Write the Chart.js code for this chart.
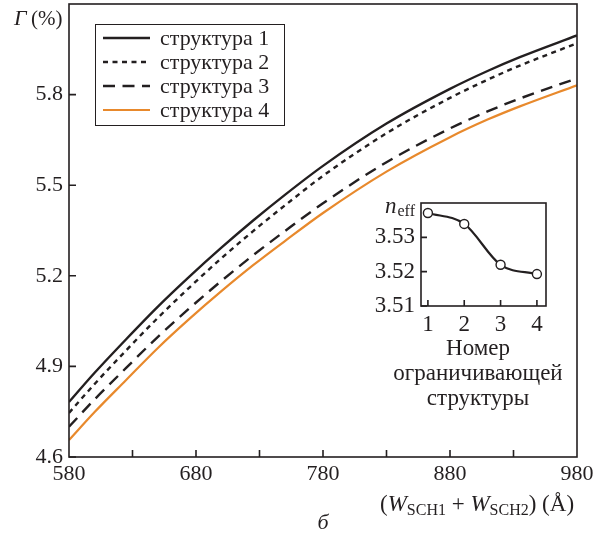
<!DOCTYPE html>
<html>
<head>
<meta charset="utf-8">
<script src="https://cdn.jsdelivr.net/npm/chart.js@4/dist/chart.umd.min.js"></script>
<style>
  html, body { margin: 0; padding: 0; background: #fff; }
  #wrap { position: relative; width: 602px; height: 533px; }
  #main { position: absolute; left: 0; top: 0; }
  #inset { position: absolute; left: 360px; top: 190px; }
</style>
</head>
<body>
<div id="wrap">
  <canvas id="main" width="602" height="533"></canvas>
  <canvas id="inset" width="230" height="225"></canvas>
</div>
<script>
// ---------- data ----------
const widths = [580, 600, 625, 650, 675, 700, 725, 750, 780, 830, 880, 910, 935, 980];
const struct1 = [4.782, 4.878, 4.990, 5.098, 5.198, 5.293, 5.383, 5.468, 5.564, 5.704, 5.819, 5.879, 5.924, 5.996];
const struct2 = [4.746, 4.841, 4.953, 5.061, 5.162, 5.258, 5.348, 5.433, 5.531, 5.672, 5.789, 5.850, 5.896, 5.970];
const struct3 = [4.700, 4.790, 4.895, 4.998, 5.093, 5.183, 5.268, 5.348, 5.440, 5.576, 5.688, 5.745, 5.787, 5.854];
const struct4 = [4.656, 4.748, 4.855, 4.961, 5.058, 5.149, 5.235, 5.315, 5.408, 5.545, 5.659, 5.718, 5.761, 5.831];
const seriesLabels = ['структура 1', 'структура 2', 'структура 3', 'структура 4'];

const xLabelTicks = [580, 680, 780, 880, 980];
const xMinorTicks = [630, 680, 730, 780, 830, 880, 930];
const yTicks = [4.6, 4.9, 5.2, 5.5, 5.8];
const yTickLabels = ['4.6', '4.9', '5.2', '5.5', '5.8'];

// inset: n_eff vs structure number
const structNo = [1, 2, 3, 4];
const nEff = [3.5371, 3.5339, 3.5220, 3.5193];
const insetYTicks = [3.51, 3.52, 3.53];
const insetYLabels = ['3.51', '3.52', '3.53'];

const INK = '#231f20';
const ORANGE = '#e8892c';
const SERIF = '"Liberation Serif", "DejaVu Serif", serif';

// no extra label padding: the plot box is placed by hand
const noPad = (s) => { s.paddingTop = 0; s.paddingBottom = 0; s.paddingLeft = 0; s.paddingRight = 0; };

// ---------- frame with inward ticks ----------
const framePlugin = {
  id: 'frame',
  afterDatasetsDraw(chart, args, o) {
    const { ctx, chartArea: a, scales: { x, y } } = chart;
    ctx.save();
    ctx.strokeStyle = INK;
    ctx.lineWidth = o.lw;
    ctx.strokeRect(a.left, a.top, a.right - a.left, a.bottom - a.top);
    ctx.beginPath();
    o.xTicks.forEach((v) => {
      const px = x.getPixelForValue(v);
      ctx.moveTo(px, a.bottom); ctx.lineTo(px, a.bottom - o.len);
    });
    o.yTicks.forEach((v) => {
      const py = y.getPixelForValue(v);
      ctx.moveTo(a.left, py); ctx.lineTo(a.left + o.len, py);
    });
    ctx.stroke();
    ctx.restore();
  },
};

// ---------- legend box inside the plot ----------
const boxLegend = {
  id: 'boxLegend',
  afterDraw(chart, args, o) {
    const ctx = chart.ctx;
    ctx.save();
    ctx.fillStyle = '#fff';
    ctx.fillRect(o.x, o.y, o.w, o.h);
    ctx.strokeStyle = INK;
    ctx.lineWidth = 1;
    ctx.strokeRect(o.x + 0.5, o.y + 0.5, o.w, o.h);
    chart.data.datasets.forEach((ds, i) => {
      const ly = o.y + o.first + i * o.step;
      ctx.beginPath();
      ctx.setLineDash(ds.borderDash || []);
      ctx.strokeStyle = ds.borderColor;
      ctx.lineWidth = ds.borderWidth;
      ctx.moveTo(o.x + 8, ly); ctx.lineTo(o.x + 55, ly);
      ctx.stroke();
      ctx.setLineDash([]);
      ctx.fillStyle = INK;
      ctx.font = '22px ' + SERIF;
      ctx.textBaseline = 'middle';
      ctx.textAlign = 'left';
      ctx.fillText(ds.label, o.x + 65, ly + 1);
    });
    ctx.restore();
  },
};

// ---------- axis titles ----------
const titles = {
  id: 'titles',
  afterDraw(chart) {
    const ctx = chart.ctx;
    ctx.save();
    ctx.fillStyle = INK;
    ctx.textBaseline = 'alphabetic';
    ctx.textAlign = 'left';
    // Γ (%)
    ctx.font = 'italic 22px ' + SERIF;
    ctx.fillText('Γ', 14, 25);
    ctx.font = '21px ' + SERIF;
    ctx.fillText('(%)', 31, 25);
    // (W_SCH1 + W_SCH2) (Å)
    let x = 380;
    const base = 511;
    const part = (t, font, dy) => {
      ctx.font = font;
      ctx.fillText(t, x, base + (dy || 0));
      x += ctx.measureText(t).width;
    };
    part('(', '23px ' + SERIF);
    part('W', 'italic 23px ' + SERIF);
    part('SCH1', '16px ' + SERIF, 4);
    part(' + ', '23px ' + SERIF);
    part('W', 'italic 23px ' + SERIF);
    part('SCH2', '16px ' + SERIF, 4);
    part(') (Å)', '23px ' + SERIF);
    // panel letter
    ctx.font = 'italic 22px ' + SERIF;
    ctx.textAlign = 'center';
    ctx.fillText('б', 323, 529);
    ctx.restore();
  },
};

const pts = (ys) => widths.map((w, i) => ({ x: w, y: ys[i] }));

new Chart(document.getElementById('main'), {
  type: 'line',
  data: {
    datasets: [
      { label: seriesLabels[0], data: pts(struct1), borderColor: INK, borderWidth: 2.4, borderDash: [] },
      { label: seriesLabels[1], data: pts(struct2), borderColor: INK, borderWidth: 2.4, borderDash: [5, 4.5] },
      { label: seriesLabels[2], data: pts(struct3), borderColor: INK, borderWidth: 2.4, borderDash: [12, 7.5] },
      { label: seriesLabels[3], data: pts(struct4), borderColor: ORANGE, borderWidth: 2.2, borderDash: [] },
    ],
  },
  options: {
    responsive: false,
    animation: false,
    layout: { padding: { left: 0, right: 25, top: 4, bottom: 0 } },
    elements: { point: { radius: 0 }, line: { cubicInterpolationMode: 'monotone', fill: false } },
    plugins: {
      legend: { display: false },
      tooltip: { enabled: false },
      frame: { lw: 1.6, len: 7, xTicks: xMinorTicks, yTicks: yTicks },
      boxLegend: { x: 95, y: 24, w: 189, h: 101, first: 14, step: 24 },
    },
    scales: {
      x: {
        type: 'linear', min: 580, max: 980,
        grid: { display: false, drawTicks: false },
        border: { display: false },
        afterBuildTicks: (s) => { s.ticks = xLabelTicks.map((v) => ({ value: v })); },
        afterFit: (s) => { s.height = 76; noPad(s); },
        ticks: { autoSkip: false, maxRotation: 0, padding: 4, color: INK, font: { family: SERIF, size: 22 } },
      },
      y: {
        min: 4.6, max: 6.1,
        grid: { display: false, drawTicks: false },
        border: { display: false },
        afterBuildTicks: (s) => { s.ticks = yTicks.map((v) => ({ value: v })); },
        afterFit: (s) => { s.width = 69; noPad(s); },
        ticks: {
          autoSkip: false, padding: 6, color: INK, font: { family: SERIF, size: 22 },
          callback: (v) => yTickLabels[yTicks.indexOf(v)],
        },
      },
    },
  },
  plugins: [framePlugin, boxLegend, titles],
});

// ---------- inset ----------
const insetText = {
  id: 'insetText',
  afterDraw(chart) {
    const ctx = chart.ctx;
    ctx.save();
    ctx.fillStyle = INK;
    ctx.textBaseline = 'alphabetic';
    ctx.textAlign = 'left';
    ctx.font = 'italic 23px ' + SERIF;
    ctx.fillText('n', 25, 23);
    const nw = ctx.measureText('n').width;
    ctx.font = '16px ' + SERIF;
    ctx.fillText('eff', 25 + nw + 1, 26);
    ctx.font = '23px ' + SERIF;
    ctx.textAlign = 'center';
    ctx.fillText('Номер', 118, 165);
    ctx.fillText('ограничивающей', 118, 190);
    ctx.fillText('структуры', 118, 215);
    ctx.restore();
  },
};

new Chart(document.getElementById('inset'), {
  type: 'line',
  data: {
    datasets: [{
      data: structNo.map((n, i) => ({ x: n, y: nEff[i] })),
      borderColor: INK, borderWidth: 2.2,
      pointRadius: 4.5, pointBackgroundColor: '#fff', pointBorderColor: INK, pointBorderWidth: 1.4,
      cubicInterpolationMode: 'monotone',
    }],
  },
  options: {
    responsive: false,
    animation: false,
    layout: { padding: { left: 0, right: 44, top: 13, bottom: 0 } },
    plugins: {
      legend: { display: false },
      tooltip: { enabled: false },
      frame: { lw: 1.6, len: 6, xTicks: structNo, yTicks: insetYTicks },
    },
    scales: {
      x: {
        type: 'linear', min: 0.81, max: 4.25,
        grid: { display: false, drawTicks: false },
        border: { display: false },
        afterBuildTicks: (s) => { s.ticks = structNo.map((v) => ({ value: v })); },
        afterFit: (s) => { s.height = 109; noPad(s); },
        ticks: { autoSkip: false, maxRotation: 0, padding: 5, color: INK, font: { family: SERIF, size: 23 } },
      },
      y: {
        min: 3.51, max: 3.54,
        grid: { display: false, drawTicks: false },
        border: { display: false },
        afterBuildTicks: (s) => { s.ticks = insetYTicks.map((v) => ({ value: v })); },
        afterFit: (s) => { s.width = 61; noPad(s); },
        ticks: {
          autoSkip: false, padding: 6, color: INK, font: { family: SERIF, size: 23 },
          callback: (v) => insetYLabels[insetYTicks.indexOf(v)],
        },
      },
    },
  },
  plugins: [framePlugin, insetText],
});
</script>
</body>
</html>
